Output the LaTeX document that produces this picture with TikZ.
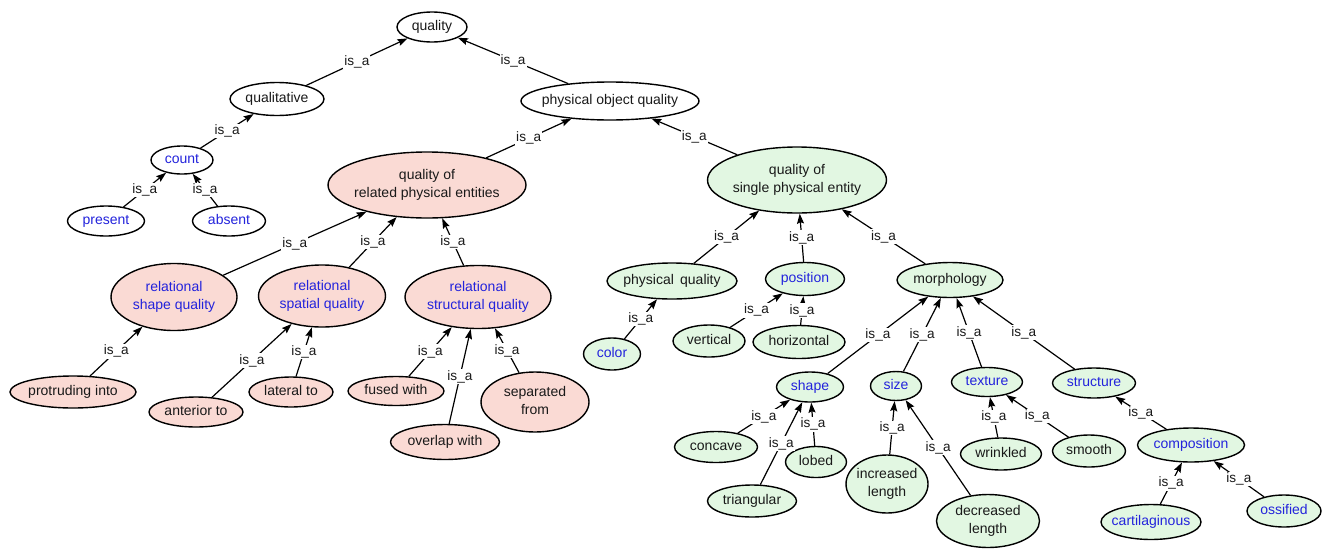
\documentclass[tikz,border=0pt]{standalone}
\usepackage{fontspec}
\setmainfont{Liberation Sans}
\usetikzlibrary{shapes.geometric,arrows.meta}
\definecolor{pinkfill}{RGB}{250,218,212}
\definecolor{greenfill}{RGB}{226,247,226}
\definecolor{bluetext}{RGB}{35,35,220}
\definecolor{inktext}{RGB}{25,25,25}
\newcommand\nt[1]{\makebox[0pt]{\begin{tabular}{@{}c@{}}#1\end{tabular}}}
\tikzset{
  base/.style={ellipse, draw=black, line width=1.4pt, inner sep=0pt, text=inktext,
    font=\fontsize{14}{18}\selectfont},
  wt/.style={base, fill=white},
  pk/.style={base, fill=pinkfill},
  gn/.style={base, fill=greenfill},
  bl/.style={text=bluetext},
  sz/.style 2 args={minimum width=#1pt, minimum height=#2pt},
  ed/.style={-{Stealth[length=10pt,width=7pt,inset=1.5pt]}, line width=1.2pt, black},
  lab/.style={fill=white, inner sep=1pt, text=inktext, font=\fontsize{13.6}{15}\selectfont}
}
\begin{document}
\begin{tikzpicture}[x=1pt,y=-1pt]
\useasboundingbox[fill=white] (0,0) rectangle (1324,549);
% top level
\node[wt, sz={70}{30}] (quality) at (432,27) {\nt{quality}};
\node[wt, sz={94}{33}] (qualitative) at (277,99) {\nt{qualitative}};
\node[wt, sz={178}{38}] (pobj) at (610,101) {\nt{physical object quality}};
\node[wt, bl, sz={62}{28}] (count) at (182,160) {\nt{count}};
\node[wt, bl, sz={77}{30}] (present) at (106,221) {\nt{present}};
\node[wt, bl, sz={73}{30}] (absent) at (229,221) {\nt{absent}};
% related branch
\node[pk, sz={198}{66}] (related) at (427,185) {\nt{quality of\\related physical entities}};
\node[pk, bl, sz={126}{67}] (rshape) at (174,297) {\nt{relational\\shape quality}};
\node[pk, bl, sz={127}{62}] (rspatial) at (322,296) {\nt{relational\\spatial quality}};
\node[pk, bl, sz={146}{63}] (rstruct) at (478,297) {\nt{relational\\structural quality}};
\node[pk, sz={126}{32}] (protruding) at (73,392) {\nt{protruding into}};
\node[pk, sz={94}{30}] (anterior) at (196,412) {\nt{anterior to}};
\node[pk, sz={84}{30}] (lateral) at (291,392) {\nt{lateral to}};
\node[pk, sz={96}{29}] (fused) at (396,391) {\nt{fused with}};
\node[pk, sz={108}{60}] (separated) at (535,402) {\nt{separated\\from}};
\node[pk, sz={109}{35}] (overlap) at (445,442) {\nt{overlap with}};
% single branch
\node[gn, sz={179}{66}] (single) at (797,180) {\nt{quality of\\single physical entity}};
\node[gn, sz={130}{36}] (physq) at (672,281) {\nt{physical\ \,quality}};
\node[gn, bl, sz={79}{33}] (position) at (805,279) {\nt{position}};
\node[gn, sz={106}{35}] (morph) at (950,280) {\nt{morphology}};
\node[gn, bl, sz={57}{32}] (color) at (612,354) {\nt{color}};
\node[gn, sz={72}{32}] (vertical) at (709,341) {\nt{vertical}};
\node[gn, sz={92}{33}] (horizontal) at (799,342) {\nt{horizontal}};
\node[gn, bl, sz={67}{30}] (shape) at (810,387) {\nt{shape}};
\node[gn, bl, sz={51}{29}] (size) at (896,386) {\nt{size}};
\node[gn, bl, sz={71}{29}] (texture) at (987,382) {\nt{texture}};
\node[gn, bl, sz={83}{30}] (structure) at (1094,383) {\nt{structure}};
\node[gn, sz={83}{31}] (concave) at (716,447) {\nt{concave}};
\node[gn, sz={61}{31}] (lobed) at (816,462) {\nt{lobed}};
\node[gn, sz={89}{32}] (triangular) at (752,501) {\nt{triangular}};
\node[gn, sz={82}{58}] (increased) at (887,484) {\nt{increased\\length}};
\node[gn, sz={103}{53}] (decreased) at (988,521) {\nt{decreased\\length}};
\node[gn, sz={81}{32}] (wrinkled) at (1001,454) {\nt{wrinkled}};
\node[gn, sz={73}{32}] (smooth) at (1089,451) {\nt{smooth}};
\node[gn, bl, sz={107}{34}] (composition) at (1191,445) {\nt{composition}};
\node[gn, bl, sz={100}{35}] (cartilaginous) at (1151,522) {\nt{cartilaginous}};
\node[gn, bl, sz={74}{32}] (ossified) at (1284,511) {\nt{ossified}};
% edges
\foreach \c/\p in {qualitative/quality, pobj/quality, count/qualitative,
  present/count, absent/count, related/pobj, single/pobj,
  rshape/related, rspatial/related, rstruct/related,
  protruding/rshape, anterior/rspatial, lateral/rspatial,
  fused/rstruct, overlap/rstruct, separated/rstruct,
  physq/single, position/single, morph/single,
  color/physq, vertical/position, horizontal/position,
  shape/morph, size/morph, texture/morph, structure/morph,
  concave/shape, triangular/shape, lobed/shape,
  increased/size, decreased/size,
  wrinkled/texture, smooth/texture,
  composition/structure, cartilaginous/composition, ossified/composition}
  \draw[ed] (\c) -- node[lab] {is\_a} (\p);
\end{tikzpicture}
\end{document}
